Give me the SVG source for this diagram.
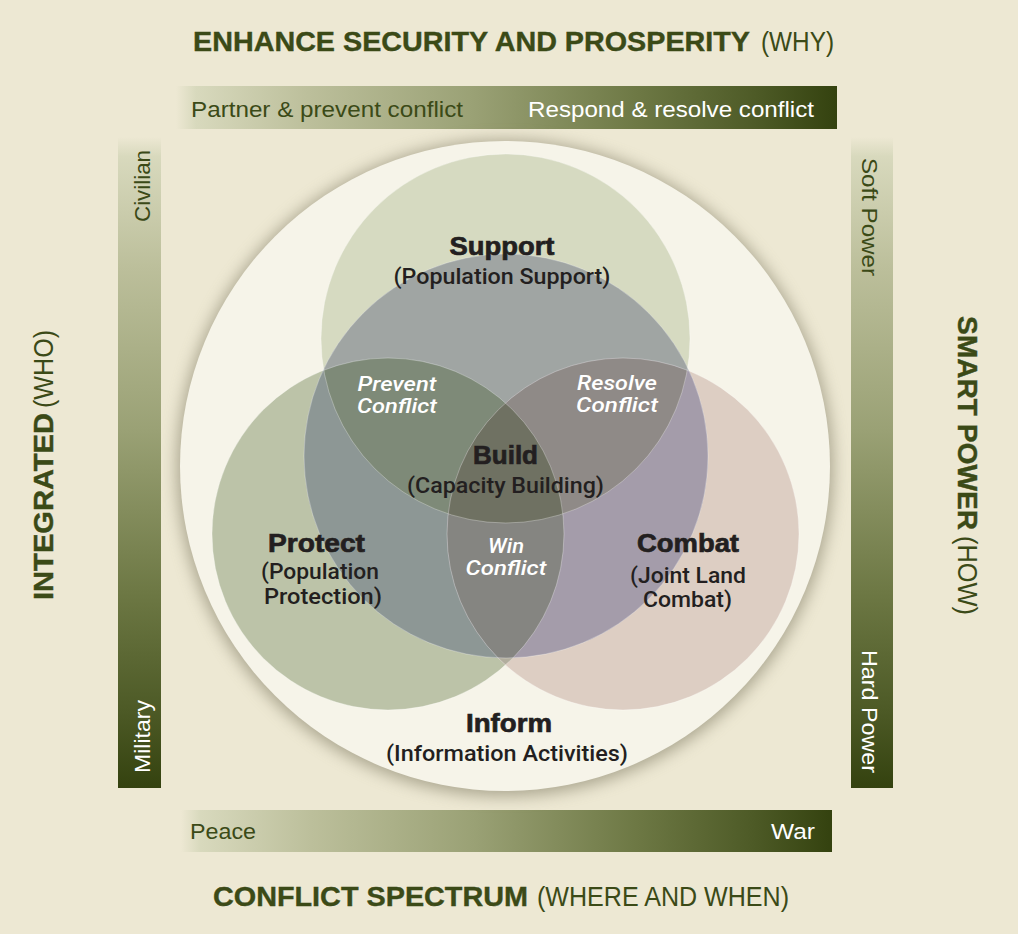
<svg xmlns="http://www.w3.org/2000/svg" width="1018" height="934" viewBox="0 0 1018 934">
<defs>
<style>
.ttl{font-family:"Liberation Sans",Arial,sans-serif;font-size:28px;fill:#3b4a17}
.b{font-weight:bold;stroke:#3b4a17;stroke-width:0.4}
.bar{font-family:"Liberation Sans",Arial,sans-serif;font-size:22px;fill:#3b4a17}
.w{fill:#ffffff}
.hd{font-family:"Liberation Sans",Arial,sans-serif;font-size:26px;font-weight:bold;fill:#231f20;stroke:#231f20;stroke-width:0.7;text-anchor:middle}
.sub{font-family:Roboto,"Liberation Sans",Arial,sans-serif;font-size:22px;font-weight:500;fill:#231f20;text-anchor:middle}
.it{font-family:Roboto,"Liberation Sans",Arial,sans-serif;font-size:21px;font-weight:500;font-style:italic;fill:#ffffff;text-anchor:middle}
.edge{fill:none;stroke:#ffffff;stroke-opacity:0.3;stroke-width:1}
</style>
<linearGradient id="gh" x1="0" y1="0" x2="1" y2="0">
<stop offset="0" stop-color="#ede8d3"/>
<stop offset="0.03" stop-color="#d8d9bd"/>
<stop offset="0.2" stop-color="#bcbf9b"/>
<stop offset="0.45" stop-color="#9aa175"/>
<stop offset="0.7" stop-color="#6d7844"/>
<stop offset="0.88" stop-color="#4d5a26"/>
<stop offset="1" stop-color="#34420f"/>
</linearGradient>
<linearGradient id="gv" x1="0" y1="0" x2="0" y2="1">
<stop offset="0" stop-color="#ede8d3"/>
<stop offset="0.03" stop-color="#d8d9bd"/>
<stop offset="0.2" stop-color="#bcbf9b"/>
<stop offset="0.45" stop-color="#9aa175"/>
<stop offset="0.7" stop-color="#6d7844"/>
<stop offset="0.88" stop-color="#4d5a26"/>
<stop offset="1" stop-color="#34420f"/>
</linearGradient>
<filter id="sh" x="-20%" y="-20%" width="140%" height="140%">
<feGaussianBlur stdDeviation="8"/>
</filter>
<clipPath id="cS"><circle cx="505.5" cy="338.5" r="184.5"/></clipPath>
<clipPath id="cP"><circle cx="388" cy="534" r="176"/></clipPath>
<clipPath id="cC"><circle cx="623" cy="534" r="176"/></clipPath>
<clipPath id="cB"><circle cx="506" cy="456" r="202"/></clipPath>
</defs>

<rect id="background" x="0" y="0" width="1018" height="934" fill="#ede8d3"/>

<g id="titles">
<text class="ttl b" x="193" y="51" textLength="557" lengthAdjust="spacingAndGlyphs">ENHANCE SECURITY AND PROSPERITY</text>
<text class="ttl" x="761" y="51" textLength="73" lengthAdjust="spacingAndGlyphs">(WHY)</text>
<text class="ttl b" x="213" y="906" textLength="315" lengthAdjust="spacingAndGlyphs">CONFLICT SPECTRUM</text>
<text class="ttl" x="537" y="906" textLength="252" lengthAdjust="spacingAndGlyphs">(WHERE AND WHEN)</text>
<g transform="translate(53,600) rotate(-90)">
<text class="ttl b" x="0" y="0" textLength="187" lengthAdjust="spacingAndGlyphs">INTEGRATED</text>
<text class="ttl" x="192" y="0" textLength="78" lengthAdjust="spacingAndGlyphs">(WHO)</text>
</g>
<g transform="translate(958,316) rotate(90)">
<text class="ttl b" x="0" y="0" textLength="214" lengthAdjust="spacingAndGlyphs">SMART POWER</text>
<text class="ttl" x="220" y="0" textLength="79" lengthAdjust="spacingAndGlyphs">(HOW)</text>
</g>
</g>

<g id="bar-top">
<rect x="176" y="86" width="661" height="43" fill="url(#gh)"/>
<text class="bar" x="191" y="117" textLength="272" lengthAdjust="spacingAndGlyphs">Partner &amp; prevent conflict</text>
<text class="bar w" x="528" y="117" textLength="286" lengthAdjust="spacingAndGlyphs">Respond &amp; resolve conflict</text>
</g>
<g id="bar-bottom">
<rect x="181" y="810" width="651" height="42" fill="url(#gh)"/>
<text class="bar" x="190" y="839" textLength="66" lengthAdjust="spacingAndGlyphs">Peace</text>
<text class="bar w" x="771" y="839" textLength="44" lengthAdjust="spacingAndGlyphs">War</text>
</g>
<g id="bar-left">
<rect x="118" y="137" width="43" height="651" fill="url(#gv)"/>
<text class="bar" transform="translate(150,222) rotate(-90)" x="0" y="0" textLength="72" lengthAdjust="spacingAndGlyphs">Civilian</text>
<text class="bar w" transform="translate(150,773) rotate(-90)" x="0" y="0" textLength="73" lengthAdjust="spacingAndGlyphs">Military</text>
</g>
<g id="bar-right">
<rect x="851" y="137" width="42" height="651" fill="url(#gv)"/>
<text class="bar" transform="translate(862,158) rotate(90)" x="0" y="0" textLength="118" lengthAdjust="spacingAndGlyphs">Soft Power</text>
<text class="bar w" transform="translate(862,650) rotate(90)" x="0" y="0" textLength="123" lengthAdjust="spacingAndGlyphs">Hard Power</text>
</g>

<g id="inform">
<circle cx="505" cy="468" r="328" fill="#7d7860" opacity="0.6" filter="url(#sh)"/>
<circle cx="505" cy="466" r="325" fill="#f6f4e9"/>
</g>

<g id="venn">
<circle cx="505.5" cy="338.5" r="184.5" fill="#d6dac1"/>
<circle cx="388" cy="534" r="176" fill="#bcc3a8"/>
<circle cx="623" cy="534" r="176" fill="#ddcec3"/>
<g clip-path="url(#cS)">
<circle cx="388" cy="534" r="176" fill="#a9b091"/>
<circle cx="623" cy="534" r="176" fill="#c2bba9"/>
</g>
<g clip-path="url(#cP)">
<circle cx="623" cy="534" r="176" fill="#b2ae9e"/>
</g>
<g clip-path="url(#cB)">
<circle cx="506" cy="456" r="202" fill="#9aa0a3"/>
<circle cx="505.5" cy="338.5" r="184.5" fill="#a0a5a3"/>
<circle cx="388" cy="534" r="176" fill="#8d9795"/>
<circle cx="623" cy="534" r="176" fill="#a49caa"/>
<g clip-path="url(#cS)">
<circle cx="388" cy="534" r="176" fill="#7e8a78"/>
<circle cx="623" cy="534" r="176" fill="#8f8a87"/>
</g>
<g clip-path="url(#cP)">
<circle cx="623" cy="534" r="176" fill="#858581"/>
</g>
<g clip-path="url(#cS)"><g clip-path="url(#cP)">
<circle cx="623" cy="534" r="176" fill="#6f7162"/>
</g></g>
</g>
<circle class="edge" cx="505.5" cy="338.5" r="184.5"/>
<circle class="edge" cx="388" cy="534" r="176"/>
<circle class="edge" cx="623" cy="534" r="176"/>
<circle class="edge" cx="506" cy="456" r="202"/>
</g>

<g id="node-support">
<text class="hd" x="502" y="255" textLength="105" lengthAdjust="spacingAndGlyphs">Support</text>
<text class="sub" x="502" y="284" textLength="217" lengthAdjust="spacingAndGlyphs">(Population Support)</text>
</g>
<g id="node-prevent">
<text class="it" x="397" y="391" textLength="79" lengthAdjust="spacingAndGlyphs">Prevent</text>
<text class="it" x="397" y="413" textLength="80" lengthAdjust="spacingAndGlyphs">Conflict</text>
</g>
<g id="node-resolve">
<text class="it" x="617" y="390" textLength="80" lengthAdjust="spacingAndGlyphs">Resolve</text>
<text class="it" x="617" y="412" textLength="82" lengthAdjust="spacingAndGlyphs">Conflict</text>
</g>
<g id="node-build">
<text class="hd" x="505.5" y="464" textLength="65" lengthAdjust="spacingAndGlyphs">Build</text>
<text class="sub" x="505.5" y="493" textLength="197" lengthAdjust="spacingAndGlyphs">(Capacity Building)</text>
</g>
<g id="node-win">
<text class="it" x="506" y="553" textLength="36" lengthAdjust="spacingAndGlyphs">Win</text>
<text class="it" x="506" y="575" textLength="81" lengthAdjust="spacingAndGlyphs">Conflict</text>
</g>
<g id="node-protect">
<text class="hd" x="316.5" y="552" textLength="97" lengthAdjust="spacingAndGlyphs">Protect</text>
<text class="sub" x="320" y="579" textLength="118" lengthAdjust="spacingAndGlyphs">(Population</text>
<text class="sub" x="323" y="604" textLength="118" lengthAdjust="spacingAndGlyphs">Protection)</text>
</g>
<g id="node-combat">
<text class="hd" x="688" y="552" textLength="102" lengthAdjust="spacingAndGlyphs">Combat</text>
<text class="sub" x="688" y="583" textLength="116" lengthAdjust="spacingAndGlyphs">(Joint Land</text>
<text class="sub" x="687.5" y="607" textLength="89" lengthAdjust="spacingAndGlyphs">Combat)</text>
</g>
<g id="node-inform">
<text class="hd" x="509" y="732" textLength="86" lengthAdjust="spacingAndGlyphs">Inform</text>
<text class="sub" x="507" y="761" textLength="242" lengthAdjust="spacingAndGlyphs">(Information Activities)</text>
</g>
</svg>
